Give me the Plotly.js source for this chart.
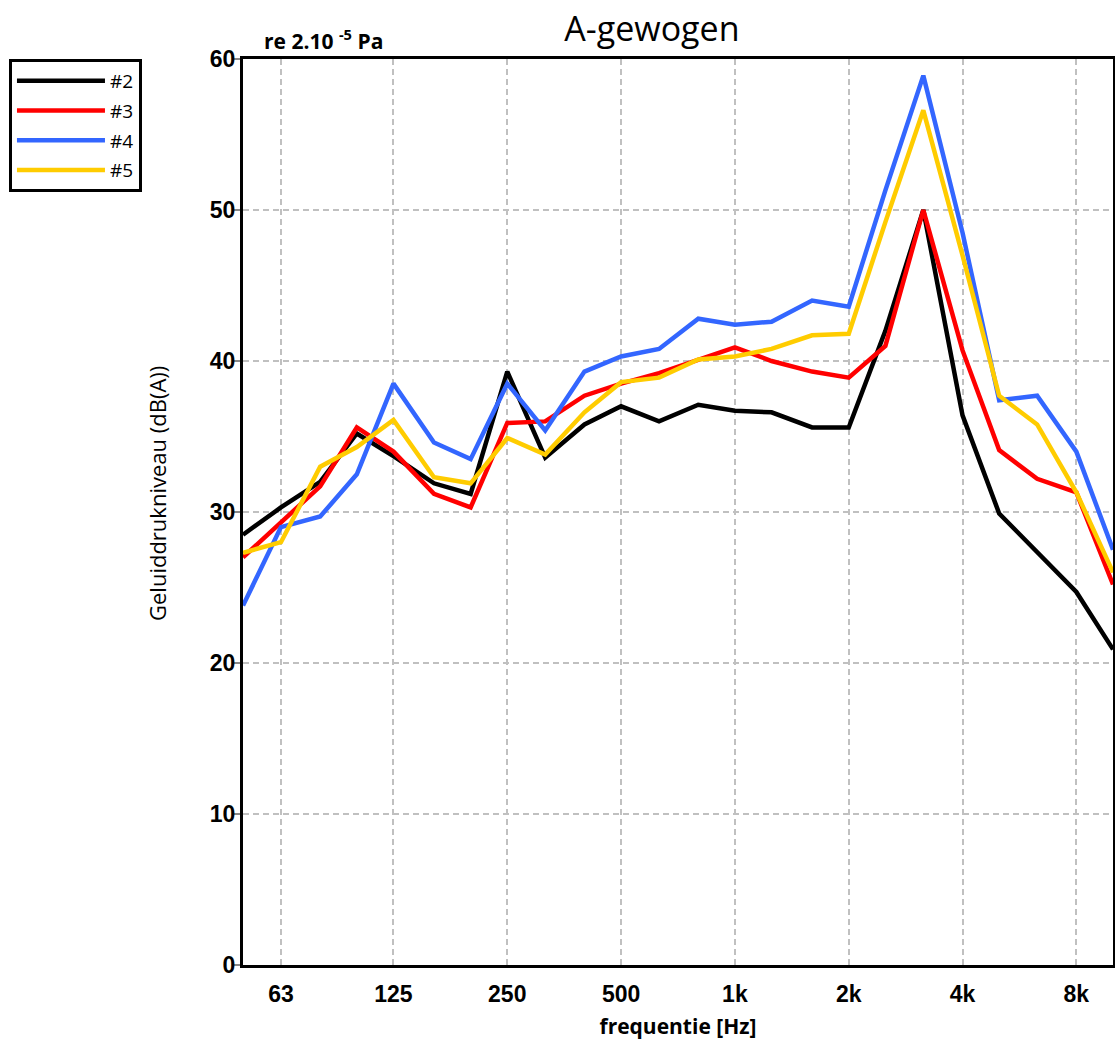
<!DOCTYPE html>
<html>
<head>
<meta charset="utf-8">
<script src="https://cdn.plot.ly/plotly-3.0.1.min.js"></script>
<style>
html,body{margin:0;padding:0;background:#fff;}
#chart{width:1115px;height:1040px;}
</style>
</head>
<body>
<div id="chart"></div>
<script>
// Third-octave band centre frequencies (Hz)
var freqs = [50, 63, 80, 100, 125, 160, 200, 250, 315, 400, 500, 630, 800, 1000, 1250, 1600, 2000, 2500, 3150, 4000, 5000, 6300, 8000, 10000];

// A-weighted sound pressure levels, dB(A)
var s2 = [28.5, 30.3, 32.0, 35.2, 33.7, 31.9, 31.2, 39.3, 33.6, 35.8, 37.0, 36.0, 37.1, 36.7, 36.6, 35.6, 35.6, 42.0, 50.0, 36.4, 29.9, 27.3, 24.7, 20.9];
var s3 = [27.0, 29.3, 31.7, 35.6, 34.0, 31.2, 30.3, 35.9, 36.0, 37.7, 38.5, 39.2, 40.1, 40.9, 40.0, 39.3, 38.9, 41.0, 50.0, 40.7, 34.1, 32.2, 31.3, 25.2];
var s4 = [23.8, 29.0, 29.7, 32.5, 38.5, 34.6, 33.5, 38.5, 35.4, 39.3, 40.3, 40.8, 42.8, 42.4, 42.6, 44.0, 43.6, 51.3, 58.9, 48.5, 37.4, 37.7, 34.0, 27.5];
var s5 = [27.3, 28.0, 33.0, 34.3, 36.1, 32.3, 31.9, 34.9, 33.8, 36.6, 38.6, 38.9, 40.1, 40.3, 40.8, 41.7, 41.8, 49.2, 56.6, 47.0, 37.7, 35.8, 31.3, 26.0];

var seriesNames = ["#2", "#3", "#4", "#5"];
var seriesColors = ["#000000", "#ff0000", "#3366ff", "#ffcc00"];

// Tick positions / labels for x axis
var xTickVals = [63, 125, 250, 500, 1000, 2000, 4000, 8000];
var xTickText = ["63", "125", "250", "500", "1k", "2k", "4k", "8k"];

var allSeries = [s2, s3, s4, s5];
var traces = allSeries.map(function (s, i) {
  return {
    x: freqs,
    y: s,
    type: "scatter",
    mode: "lines",
    name: seriesNames[i],
    legendgroup: "g" + i,
    line: {color: seriesColors[i], width: 4.5},
    hoverinfo: "x+y+name"
  };
});

var tickFont = {family: "Liberation Sans, Arial, sans-serif", size: 23, color: "#000", weight: "bold"};
var txtFont = "Open Sans, Noto Sans, sans-serif";

var layout = {
  width: 1115,
  height: 1040,
  margin: {l: 243, r: 2, t: 59, b: 75},
  paper_bgcolor: "#fff",
  plot_bgcolor: "#fff",
  title: {
    text: "A-gewogen",
    font: {family: txtFont, size: 34, color: "#000"},
    x: 0.47, xref: "paper", xanchor: "center",
    y: 1040 - 22, yref: "container", yanchor: "middle"
  },
  showlegend: true,
  legend: {
    x: -0.269, xanchor: "left",
    y: 1.0, yanchor: "top",
    bordercolor: "#000",
    borderwidth: 3,
    bgcolor: "#fff",
    font: {family: txtFont, size: 19, color: "#000"},
    traceorder: "grouped",
    tracegroupgap: 2,
    itemwidth: 88
  },
  xaxis: {
    type: "log",
    range: [Math.log10(50), Math.log10(10000)],
    tickvals: xTickVals,
    ticktext: xTickText,
    tickfont: tickFont,
    ticks: "",
    ticklabelstandoff: 6,
    showgrid: true,
    gridcolor: "#c0c0c0",
    gridwidth: 2,
    griddash: "6px,4px",
    showline: true,
    linecolor: "#000",
    linewidth: 3,
    mirror: true,
    zeroline: false,
    title: {
      text: "<b>frequentie [Hz]</b>",
      font: {family: txtFont, size: 21, color: "#000"},
      standoff: 14
    }
  },
  yaxis: {
    range: [0, 60],
    dtick: 10,
    tickfont: tickFont,
    ticks: "outside",
    ticklen: 6,
    tickwidth: 2,
    tickcolor: "#888",
    ticklabelstandoff: -6,
    showgrid: true,
    gridcolor: "#c0c0c0",
    gridwidth: 2,
    griddash: "6px,4px",
    showline: true,
    linecolor: "#000",
    linewidth: 3,
    mirror: true,
    zeroline: false
  },
  annotations: [{
    text: "<b>re 2.10 <sup>-5</sup> Pa</b>",
    xref: "paper", yref: "paper",
    x: (262 - 243) / 870, xanchor: "left",
    y: (965 - 39) / 906, yanchor: "middle",
    showarrow: false,
    font: {family: txtFont, size: 21, color: "#000"}
  }, {
    text: "Geluiddrukniveau (dB(A))",
    xref: "paper", yref: "paper",
    x: (157 - 243) / 870, xanchor: "center",
    y: (965 - 494) / 906, yanchor: "middle",
    textangle: -90,
    showarrow: false,
    font: {family: txtFont, size: 22, color: "#000"}
  }]
};

Plotly.newPlot("chart", traces, layout, {displayModeBar: false, staticPlot: true});
</script>
</body>
</html>
